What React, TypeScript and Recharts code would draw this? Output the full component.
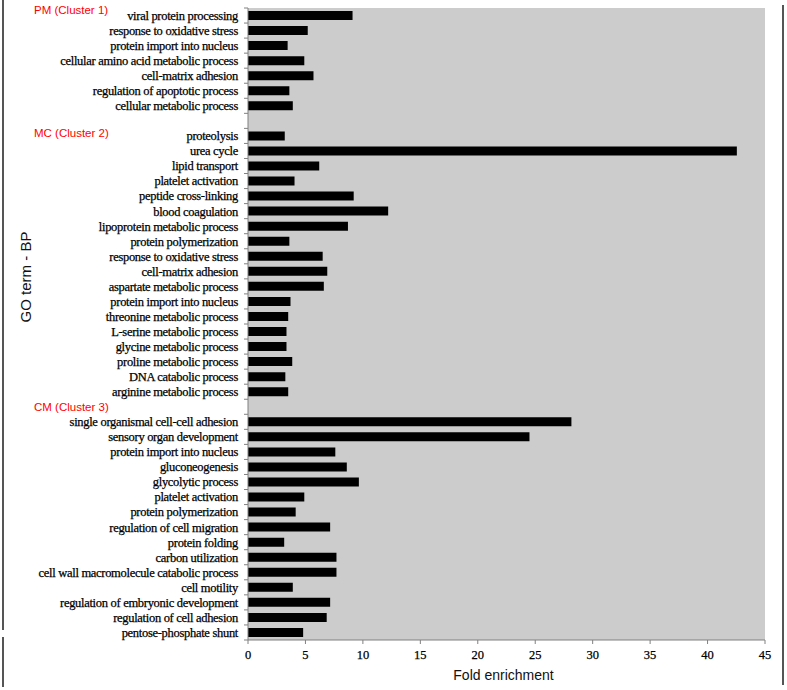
import React from "react";
import { BarChart, Bar, XAxis, YAxis, CartesianGrid, Label } from "recharts";

// GO terms and fold enrichment, per cluster (top to bottom)
const pmTerms = [
  "viral protein processing",
  "response to oxidative stress",
  "protein import into nucleus",
  "cellular amino acid metabolic process",
  "cell-matrix adhesion",
  "regulation of apoptotic process",
  "cellular metabolic process",
];
const pmValues = [9.1, 5.2, 3.45, 4.9, 5.7, 3.6, 3.9];

const mcTerms = [
  "proteolysis",
  "urea cycle",
  "lipid transport",
  "platelet activation",
  "peptide cross-linking",
  "blood coagulation",
  "lipoprotein metabolic process",
  "protein polymerization",
  "response to oxidative stress",
  "cell-matrix adhesion",
  "aspartate metabolic process",
  "protein import into nucleus",
  "threonine metabolic process",
  "L-serine metabolic process",
  "glycine metabolic process",
  "proline metabolic process",
  "DNA catabolic process",
  "arginine metabolic process",
];
const mcValues = [3.2, 42.55, 6.2, 4.05, 9.2, 12.2, 8.7, 3.6, 6.5, 6.9, 6.6, 3.7, 3.5, 3.35, 3.35, 3.85, 3.25, 3.5];

const cmTerms = [
  "single organismal cell-cell adhesion",
  "sensory organ development",
  "protein import into nucleus",
  "gluconeogenesis",
  "glycolytic process",
  "platelet activation",
  "protein polymerization",
  "regulation of cell migration",
  "protein folding",
  "carbon utilization",
  "cell wall macromolecule catabolic process",
  "cell motility",
  "regulation of embryonic development",
  "regulation of cell adhesion",
  "pentose-phosphate shunt",
];
const cmValues = [28.15, 24.5, 7.6, 8.6, 9.65, 4.9, 4.15, 7.15, 3.15, 7.7, 7.7, 3.9, 7.15, 6.85, 4.8];

const clusterNames = ["PM (Cluster 1)", "MC (Cluster 2)", "CM (Cluster 3)"];
const xTicks = [0, 5, 10, 15, 20, 25, 30, 35, 40, 45];

type Row = { id: string; term: string; value: number | null; cluster?: string; clusterDy?: number };

const rows: Row[] = [];
pmTerms.forEach((t, i) =>
  rows.push({ id: `pm${i}`, term: t, value: pmValues[i], cluster: i === 0 ? clusterNames[0] : undefined, clusterDy: -5.5 })
);
rows.push({ id: "gap1", term: "", value: null, cluster: clusterNames[1], clusterDy: 12 });
mcTerms.forEach((t, i) => rows.push({ id: `mc${i}`, term: t, value: mcValues[i] }));
rows.push({ id: "gap2", term: "", value: null, cluster: clusterNames[2], clusterDy: 0 });
cmTerms.forEach((t, i) => rows.push({ id: `cm${i}`, term: t, value: cmValues[i] }));

const rowById: Record<string, Row> = {};
rows.forEach((r) => (rowById[r.id] = r));

const W = 787;
const H = 690;
const TOP = 8;
const X_AXIS_H = 50;
const Y_AXIS_W = 248;
const ROW_H = (H - TOP - X_AXIS_H) / rows.length;

const serif = "'Liberation Serif', 'Times New Roman', serif";
const sans = "'Liberation Sans', Arial, sans-serif";

function TermTick(props: any) {
  const { x, y, payload, index } = props;
  const row = rowById[payload.value];
  return (
    <g>
      {index === 0 && <line x1={x - 4} x2={x} y1={y - ROW_H / 2} y2={y - ROW_H / 2} stroke="#808080" />}
      <line x1={x - 4} x2={x} y1={y + ROW_H / 2} y2={y + ROW_H / 2} stroke="#808080" />
      {row.term && (
        <text
          x={x - 10}
          y={y}
          dy="0.35em"
          textAnchor="end"
          fontFamily={serif}
          fontSize={12.5}
          letterSpacing={-0.3}
          fill="#000"
          stroke="#000"
          strokeWidth={0.25}
        >
          {row.term}
        </text>
      )}
      {row.cluster && (
        <text x={34} y={y + (row.clusterDy ?? 0)} dy="0.35em" fontFamily={sans} fontSize={11.5} fill="#ff0000">
          {row.cluster}
        </text>
      )}
    </g>
  );
}

export default function App() {
  return (
    <div style={{ position: "absolute", left: 0, top: 0, width: W, height: H, background: "#fff" }}>
      <div style={{ position: "absolute", left: 2, top: 0, width: 2, height: 630, background: "#555" }} />
      <div style={{ position: "absolute", left: 2, top: 637, width: 2, height: 50, background: "#555" }} />
      <div style={{ position: "absolute", left: 782, top: 5, width: 2, height: 680, background: "#555" }} />
      <BarChart
        width={W}
        height={H}
        data={rows}
        layout="vertical"
        margin={{ top: TOP, right: 22, bottom: 0, left: 0 }}
      >
        <CartesianGrid fill="#cccccc" horizontal={false} vertical={false} />
        <XAxis
          type="number"
          domain={[0, 45]}
          ticks={xTicks}
          height={X_AXIS_H}
          stroke="#808080"
          tickSize={4}
          tickMargin={6}
          tick={{ fontFamily: serif, fontSize: 12.5, fill: "#000", stroke: "#000", strokeWidth: 0.25 }}
        >
          <Label
            content={({ viewBox }: any) => (
              <text
                x={viewBox.x + viewBox.width / 2 - 3}
                y={viewBox.y + 35}
                dy="0.35em"
                textAnchor="middle"
                fontFamily={sans}
                fontSize={14}
                fill="#111"
              >
                Fold enrichment
              </text>
            )}
          />
        </XAxis>
        <YAxis
          type="category"
          dataKey="id"
          width={Y_AXIS_W}
          stroke="#808080"
          tickLine={false}
          tickSize={0}
          tickMargin={0}
          interval={0}
          tick={<TermTick />}
        >
          <Label
            content={({ viewBox }: any) => {
              const cx = viewBox.x + 26;
              const cy = viewBox.y + viewBox.height / 2 - 47;
              return (
                <text
                  x={cx}
                  y={cy}
                  transform={`rotate(-90 ${cx} ${cy})`}
                  dy="0.35em"
                  textAnchor="middle"
                  fontFamily={sans}
                  fontSize={15}
                  fill="#111"
                >
                  GO term - BP
                </text>
              );
            }}
          />
        </YAxis>
        <Bar dataKey="value" fill="#000" barSize={9} isAnimationActive={false} />
      </BarChart>
    </div>
  );
}
